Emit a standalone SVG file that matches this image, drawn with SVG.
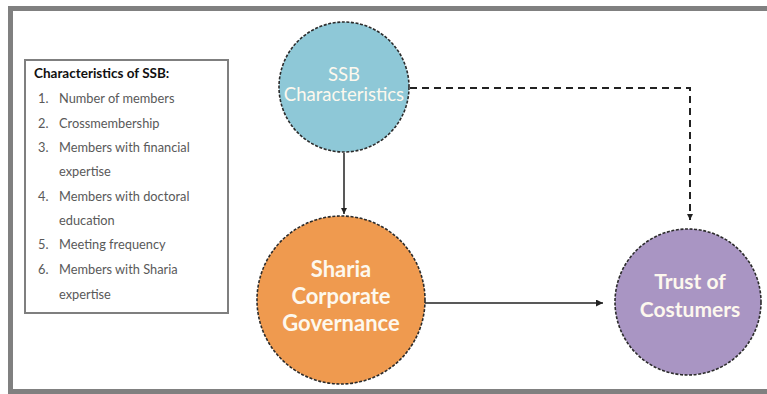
<svg xmlns="http://www.w3.org/2000/svg" width="767" height="394" viewBox="0 0 767 394">
<defs>
<style>
.frame{fill:none;stroke:#808080;stroke-width:5}
.box{fill:#fff;stroke:#7f7f7f;stroke-width:2}
.title{font-family:"Lato","Open Sans",sans-serif;font-size:13.5px;font-weight:bold;fill:#111}
.item{font-family:"Lato","Open Sans",sans-serif;font-size:12.8px;fill:#595959}
.node{stroke:#2b2b2b;stroke-width:1.6;stroke-dasharray:3 1.6}
.lbl{font-family:"Lato","Open Sans",sans-serif;fill:#fdf8ee;text-anchor:middle}
.solid{fill:none;stroke:#222;stroke-width:1.5}
.dash{fill:none;stroke:#222;stroke-width:2;stroke-dasharray:7 5}
</style>
<marker id="ah" viewBox="0 0 10 10" refX="10" refY="5" markerWidth="6" markerHeight="6" markerUnits="userSpaceOnUse" orient="auto">
<path d="M0,0 L10,5 L0,10 z" fill="#222"/>
</marker>
<marker id="ah2" viewBox="0 0 10 10" refX="10" refY="5" markerWidth="7" markerHeight="7" markerUnits="userSpaceOnUse" orient="auto">
<path d="M0,0 L10,5 L0,10 z" fill="#222"/>
</marker>
</defs>
<rect width="767" height="394" fill="#fff"/>
<path class="frame" d="M770,8.5 H10.5 V391.5 H770"/>

<g id="legend">
<rect class="box" x="25" y="60" width="203" height="253"/>
<text class="title" x="34" y="78">Characteristics of SSB:</text>
<text class="item" x="38" y="103">1.</text><text class="item" x="59" y="103">Number of members</text>
<text class="item" x="38" y="128">2.</text><text class="item" x="59" y="128">Crossmembership</text>
<text class="item" x="38" y="152">3.</text><text class="item" x="59" y="152">Members with financial</text>
<text class="item" x="59" y="176">expertise</text>
<text class="item" x="38" y="201">4.</text><text class="item" x="59" y="201">Members with doctoral</text>
<text class="item" x="59" y="225">education</text>
<text class="item" x="38" y="249">5.</text><text class="item" x="59" y="249">Meeting frequency</text>
<text class="item" x="38" y="274">6.</text><text class="item" x="59" y="274">Members with Sharia</text>
<text class="item" x="59" y="299">expertise</text>
</g>

<g id="connectors">
<line class="solid" x1="344" y1="153" x2="344" y2="214" marker-end="url(#ah)"/>
<line class="solid" x1="425" y1="303" x2="603" y2="303" marker-end="url(#ah2)"/>
<path class="dash" d="M410,88 H690 V220" marker-end="url(#ah)"/>
</g>

<g id="ssb">
<circle class="node" cx="344" cy="87" r="65" fill="#8ec8d7"/>
<text class="lbl" x="344" y="81" font-size="18.5">SSB</text>
<text class="lbl" x="344" y="101" font-size="18.5">Characteristics</text>
</g>

<g id="sharia">
<circle class="node" cx="341" cy="300" r="84" fill="#ef9a4f"/>
<text class="lbl" x="341" y="277" font-size="22" font-weight="bold">Sharia</text>
<text class="lbl" x="341" y="304" font-size="22" font-weight="bold">Corporate</text>
<text class="lbl" x="341" y="331" font-size="22" font-weight="bold">Governance</text>
</g>

<g id="trust">
<circle class="node" cx="688" cy="302" r="73" fill="#a995c3"/>
<text class="lbl" x="690" y="289" font-size="21" font-weight="bold">Trust of</text>
<text class="lbl" x="690" y="317" font-size="21" font-weight="bold">Costumers</text>
</g>
</svg>
